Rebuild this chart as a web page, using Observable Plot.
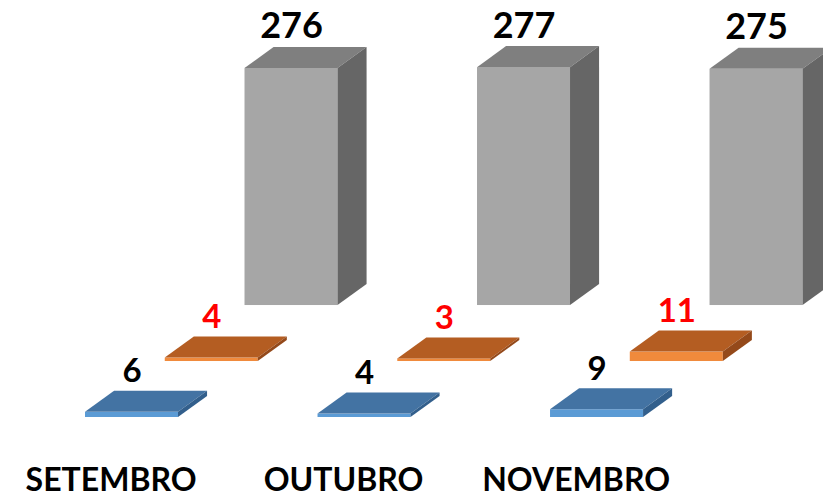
<!DOCTYPE html>
<html>
<head>
<meta charset="utf-8">
<script src="https://cdn.jsdelivr.net/npm/d3@7"></script>
<script src="https://cdn.jsdelivr.net/npm/@observablehq/plot@0.6"></script>
<style>
  html, body { margin: 0; padding: 0; background: #ffffff; }
  #chart svg { display: block; }
</style>
</head>
<body>
<div id="chart"></div>
<script>
// ---- data ----
const months = ["SETEMBRO", "OUTUBRO", "NOVEMBRO"];
const seriesBlue = [6, 4, 9];        // front row
const seriesOrange = [4, 3, 11];     // middle row
const seriesGray = [276, 277, 275];  // back row

// ---- styling per series (row 0 = front) ----
const rows = [
  {values: seriesBlue,   front: "#5b9bd5", top: "#4373a3", side: "#325f8c", label: "#000000"},
  {values: seriesOrange, front: "#f08a3c", top: "#b45d22", side: "#94491a", label: "#ff0000"},
  {values: seriesGray,   front: "#a6a6a6", top: "#7f7f7f", side: "#666666", label: "#000000"}
];

// 3D layout in scale units (x: category units, y: value units)
const barW = 0.40, rowX = 0.343, rowY = 65.2, depthX = 0.125, depthY = 24.5;

const bars = [];
rows.forEach((r, ri) => {
  r.values.forEach((v, i) => {
    const left = i + ri * rowX;
    const base = ri * rowY;
    bars.push({key: ri + "-" + i, row: ri, month: months[i], value: v,
      left, right: left + barW, base, top: base + v,
      front: r.front, topColor: r.top, side: r.side, labelColor: r.label});
  });
});
// draw back rows first
bars.sort((a, b) => b.row - a.row);

const topPts = bars.flatMap(b => [
  {key: b.key, y: b.top, x1: b.left, x2: b.right, fill: b.topColor},
  {key: b.key, y: b.top + depthY, x1: b.left + depthX, x2: b.right + depthX, fill: b.topColor}
]);
const sidePts = bars.flatMap(b => [
  {key: b.key, x: b.right, y1: b.base, y2: b.top, fill: b.side},
  {key: b.key, x: b.right + depthX, y1: b.base + depthY, y2: b.top + depthY, fill: b.side}
]);
const monthLabels = months.map((m, i) => ({m, x: i + 0.11}));

const chart = Plot.plot({
  width: 823,
  height: 499,
  marginTop: 0,
  marginBottom: 82,
  marginLeft: 0,
  marginRight: 0,
  x: {domain: [-0.3656, 3.174], axis: null},
  y: {domain: [0, 485.6], axis: null},
  marks: [
    Plot.rect(bars, {x1: "left", x2: "right", y1: "base", y2: "top", fill: "front"}),
    Plot.areaX(topPts, {y: "y", x1: "x1", x2: "x2", z: "key", fill: "fill", curve: "linear"}),
    Plot.areaY(sidePts, {x: "x", y1: "y1", y2: "y2", z: "key", fill: "fill", curve: "linear"}),
    Plot.text(bars, {
      x: d => (d.left + d.right) / 2,
      y: d => d.top + depthY,
      text: d => String(d.value),
      fill: "labelColor",
      lineAnchor: "bottom",
      dy: -9,
      fontSize: d => d.row === 2 ? 36 : 33,
      fontWeight: "bold",
      fontFamily: "Lato, 'Open Sans', sans-serif"
    }),
    Plot.text(monthLabels, {
      x: "x",
      y: -86,
      text: "m",
      fill: "#000000",
      lineAnchor: "bottom",
      fontSize: 32,
      fontWeight: "bold",
      fontFamily: "Lato, 'Open Sans', sans-serif",
      letterSpacing: 1.8
    })
  ]
});
document.getElementById("chart").appendChild(chart);
</script>
</body>
</html>
